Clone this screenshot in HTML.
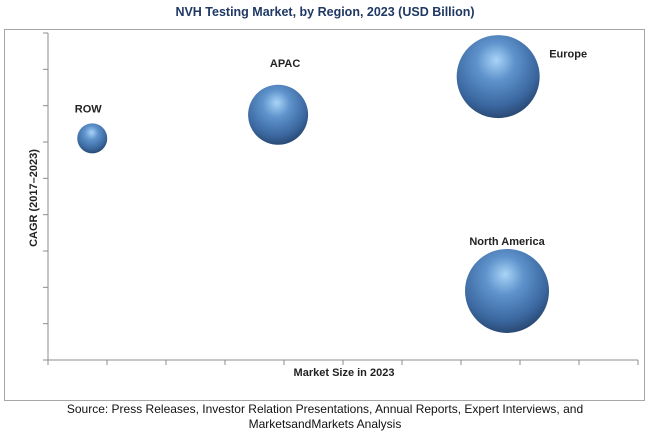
<!DOCTYPE html>
<html><head><meta charset="utf-8"><style>
body{margin:0;background:#fff;width:650px;height:435px;overflow:hidden;font-family:"Liberation Sans",sans-serif}
</style></head><body>
<svg id="chart" width="650" height="435" viewBox="0 0 650 435" xmlns="http://www.w3.org/2000/svg">
<defs>
<radialGradient id="ball" cx="0.45" cy="0.35" r="0.65" fx="0.48" fy="0.3">
<stop offset="0" stop-color="#a9d4f7"/>
<stop offset="0.35" stop-color="#5f93cc"/>
<stop offset="0.8" stop-color="#3a669e"/>
<stop offset="1" stop-color="#2a4a75"/>
</radialGradient>
</defs>
<text x="325" y="16" text-anchor="middle" font-size="12.5" font-weight="bold" fill="#1f3864">NVH Testing Market, by Region, 2023 (USD Billion)</text>
<rect x="4.5" y="29.5" width="640" height="371" fill="none" stroke="#a6a6a6"/>
<g id="axes"></g>
<g id="marks"></g>
<text x="344" y="376" text-anchor="middle" font-size="11" font-weight="bold" fill="#222">Market Size in 2023</text>
<text transform="translate(37,198) rotate(-90)" text-anchor="middle" font-size="11" font-weight="bold" fill="#222">CAGR (2017–2023)</text>
<text x="325" y="413" text-anchor="middle" font-size="12" fill="#111">Source: Press Releases, Investor Relation Presentations, Annual Reports, Expert Interviews, and</text>
<text x="325" y="428" text-anchor="middle" font-size="12" fill="#111">MarketsandMarkets Analysis</text>
</svg>
<script>
const regions=["ROW","APAC","Europe","North America"];
const marketSize=[0.75,3.9,7.63,7.78];
const cagr=[6.1,6.75,7.8,1.9];
const bubbleSize=[15,30,41.5,42];
const xTicks=[0,1,2,3,4,5,6,7,8,9,10];
const yTicks=[0,1,2,3,4,5,6,7,8,9];

const NS="http://www.w3.org/2000/svg";
const X0=48,X1=638,Y0=360,Y1=33;
const xS=v=>X0+(X1-X0)*v/10;
const yS=v=>Y0-(Y0-Y1)*v/9;
const labelOff=[[-4,-26],[7,-48],[70,-19],[0,-46]];
const axes=document.getElementById('axes'),marks=document.getElementById('marks');
function mk(t,a,p){const e=document.createElementNS(NS,t);for(const k in a)e.setAttribute(k,a[k]);p.appendChild(e);return e;}
let l=mk('line',{x1:X0,y1:Y0,x2:X1,y2:Y0,stroke:'#8c8c8c'},axes);


l=mk('line',{x1:X0,y1:Y0,x2:X0,y2:Y1,stroke:'#8c8c8c'},axes);


xTicks.forEach(t=>{const e=mk('line',{x1:xS(t),y1:Y0,x2:xS(t),y2:Y0+5,stroke:'#8c8c8c'},axes);

});
yTicks.forEach(t=>{const e=mk('line',{x1:X0-5,y1:yS(t),x2:X0,y2:yS(t),stroke:'#8c8c8c'},axes);

});
regions.forEach((r,i)=>{
 const cx=xS(marketSize[i]),cy=yS(cagr[i]),rad=bubbleSize[i];
 const c=mk('ellipse',{cx:cx,cy:cy,rx:rad,ry:rad,fill:'url(#ball)'},marks);
 
 
 const t=mk('text',{x:cx+labelOff[i][0],y:cy+labelOff[i][1],'text-anchor':'middle','font-size':11,'font-weight':'bold',fill:'#222'},marks);
 t.textContent=r;
 
 
});
</script>
</body></html>
